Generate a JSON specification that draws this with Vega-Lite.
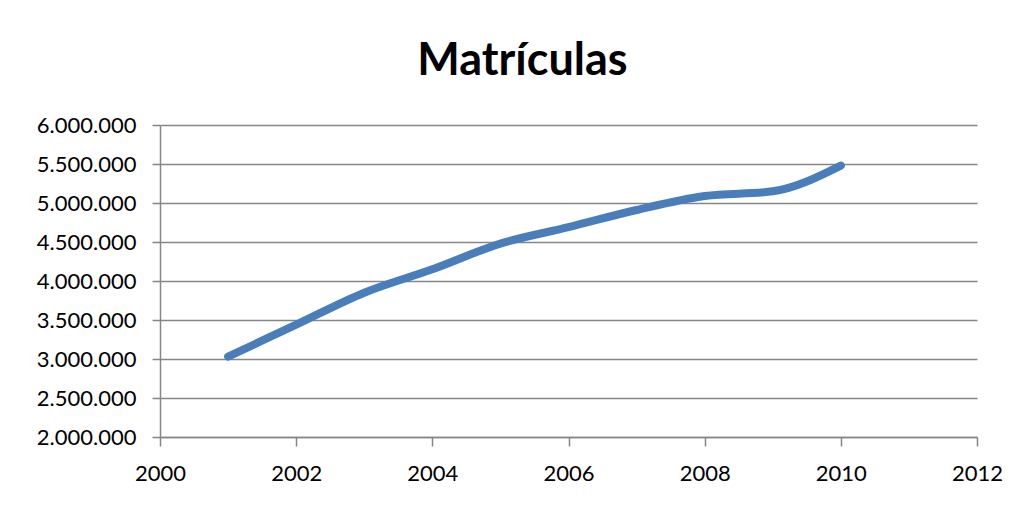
{
  "$schema": "https://vega.github.io/schema/vega-lite/v6.json",
  "width": 817,
  "height": 312,
  "autosize": {"type": "none"},
  "padding": {"left": 160, "top": 125, "right": 51, "bottom": 68},
  "background": "white",
  "config": {
    "locale": {"number": {"decimal": ",", "thousands": ".", "grouping": [3], "currency": ["", ""]}},
    "view": {"stroke": null},
    "font": "Lato"
  },
  "title": {
    "text": "Matrículas",
    "font": "Lato",
    "fontSize": 45,
    "fontWeight": "bold",
    "color": "#000000",
    "anchor": "middle",
    "dx": -46,
    "offset": 30
  },
  "data": {
    "values": [
      {"ano": 2001, "matriculas": 3030000},
      {"ano": 2002, "matriculas": 3440000},
      {"ano": 2003, "matriculas": 3850000},
      {"ano": 2004, "matriculas": 4150000},
      {"ano": 2005, "matriculas": 4480000},
      {"ano": 2006, "matriculas": 4690000},
      {"ano": 2007, "matriculas": 4910000},
      {"ano": 2008, "matriculas": 5090000},
      {"ano": 2009, "matriculas": 5150000},
      {"ano": 2010, "matriculas": 5480000}
    ]
  },
  "mark": {"type": "line", "interpolate": "monotone", "color": "#4A7EBB", "strokeWidth": 8, "strokeCap": "round"},
  "encoding": {
    "x": {
      "field": "ano",
      "type": "quantitative",
      "scale": {"domain": [2000, 2012], "nice": false, "zero": false},
      "axis": {
        "title": null,
        "values": [2000, 2002, 2004, 2006, 2008, 2010, 2012],
        "format": "d",
        "grid": false,
        "domainColor": "#868686",
        "domainWidth": 1.5,
        "tickColor": "#868686",
        "tickWidth": 1.5,
        "tickSize": 9,
        "labelFont": "Lato",
        "labelFontSize": 22,
        "labelColor": "#000000",
        "labelPadding": 17,
        "labelFlush": false
      }
    },
    "y": {
      "field": "matriculas",
      "type": "quantitative",
      "scale": {"domain": [2000000, 6000000], "nice": false, "zero": false},
      "axis": {
        "title": null,
        "values": [2000000, 2500000, 3000000, 3500000, 4000000, 4500000, 5000000, 5500000, 6000000],
        "format": ",d",
        "grid": true,
        "gridColor": "#868686",
        "gridWidth": 1.5,
        "domainColor": "#868686",
        "domainWidth": 1.5,
        "tickColor": "#868686",
        "tickWidth": 1.5,
        "tickSize": 8,
        "labelFont": "Lato",
        "labelFontSize": 22,
        "labelColor": "#000000",
        "labelPadding": 16,
        "labelFlush": false
      }
    }
  }
}
